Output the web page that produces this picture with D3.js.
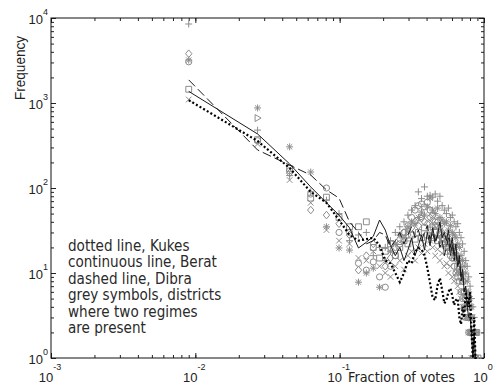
<!DOCTYPE html>
<html>
<head>
<meta charset="utf-8">
<script src="https://cdn.jsdelivr.net/npm/d3@7"></script>
<style>
  body { margin: 0; background: #fff; }
  svg { display: block; }
</style>
</head>
<body>
<svg id="chart" width="500" height="386"></svg>
<script>
// bin centres (fraction of votes)
const voteFraction = [
    0.009, 0.027, 0.045, 0.063, 0.081, 0.099, 0.117, 0.135, 0.153, 0.171,
    0.189, 0.207, 0.225, 0.243, 0.261, 0.279, 0.297, 0.315, 0.333, 0.351,
    0.369, 0.387, 0.405, 0.423, 0.441, 0.459, 0.477, 0.495, 0.513, 0.531,
    0.549, 0.567, 0.585, 0.603, 0.621, 0.639, 0.657, 0.675, 0.693, 0.711,
    0.729, 0.747, 0.765, 0.783, 0.801, 0.819, 0.837, 0.855, 0.873, 0.891,
    0.909, 0.927, 0.945, 0.963, 0.981
];

// dotted line
const kukes = [
    1080, 357, 172, 90, 67, 42, 28, 24, 25, 26,
    21, 14, 13, 10, 7.8, 10, 14, 13, 17.7, 19.7,
    19, 16.3, 11.5, 7.6, 5.1, 4.8, 7.2, 8.7, 6.3, 4.4,
    4.8, 6.0, 6.6, 5.4, 4.2, 4.8, 5, 3, 2.5, 4,
    3, 6, 5, 4, 6, 2, 1, 3, 1, 1,
    null, null, null, null, null
];

// continuous line
const berat = [
    1370, 432, 192, 103, 67, 48, 34, 19.7, 23, 27,
    42, 32, 21, 16, 20, 14, 18.6, 25.8, 16, 21,
    28, 18.6, 30, 21, 34, 24, 28, 40, 26, 30,
    24, 32, 20, 26, 16, 22, 12, 16, 9, 11,
    6, 7, 4, 3, 3, 2, 1, 2, 1, null,
    null, null, null, null, null
];

// dashed line
const dibra = [
    1870, 280, 186, 142, 95, 76, 40, 30, 22, 24,
    30, 28, 20, 24, 30, 22, 28, 35, 26, 32,
    24, 30, 36, 25, 30, 22, 28, 20, 24, 16,
    20, 26, 16, 22, 14, 18, 12, 14, 8, 10,
    6, 7, 4, 5, 3, 2, 2, 1, 1, null,
    null, null, null, null, null
];

// grey symbols, districts with two regimes
const greyPlus = [
    8500, 480, 140, 90, 72, 50, 24, 28, 30, 16,
    20, 20, 24, 30, 35, 40, 48, 55, 62, 90,
    75, 103, 80, 82, 78, 85, 70, 80, 62, 55,
    50, 58, 45, 48, 40, 35, 38, 30, 26, 22,
    18, 14, 12, 9, 7, 5, 4, 3, 2, 2,
    1, null, null, null, null
];
const greyStar = [
    3200, 875, 305, 154, 35, 19.7, 18.6, 7.8, 10, 11.4,
    6.8, 14, 18, 22, 28, 26, 35, 40, 38, 45,
    52, 48, 60, 76, 55, 50, 58, 45, 42, 38,
    40, 32, 36, 30, 28, 26, 22, 20, 16, 14,
    12, 10, 8, 6, 5, 4, 3, 2, 1, null,
    null, null, null, null, null
];
const greyCircle = [
    3050, 360, 160, 85, 100, 30, 30, 13, 10.8, 13.5,
    9, 6.8, 12, 16, 22, 30, 36, 45, 55, 62,
    65, 60, 68, 55, 48, 40, 36, 30, 26, 22,
    18, 20, 16, 15, 12, 10, 9, 8, 6, 5,
    4, 3, 3, 2, 2, 2, 2, null, null, null,
    null, null, null, null, null
];
const greyCross = [
    1100, 330, 124, 67, 32, 24, 22, 15, 14, 18,
    12, 10, 9, 12, 14, 11, 16, 18, 14, 20,
    17, 22, 18, 24, 20, 16, 19, 14, 17, 12,
    13, 10, 12, 9, 8, 10, 7, 6, 5, 4,
    4, 3, 3, 2, 2, 1, 1, null, null, null,
    null, null, null, null, null
];
const greySquare = [
    1450, 370, 170, 76, 78, 45, 35, 35, 40, 20,
    15, 18, 22, 16, 20, 24, 22, 28, 25, 30,
    26, 34, 28, 32, 26, 30, 24, 28, 22, 25,
    20, 22, 18, 20, 15, 16, 12, 11, 9, 8,
    6, 5, 4, 3, 3, 2, 2, 2, 2, 2,
    1, null, null, null, null
];
const greyDiamond = [
    3800, null, 150, 55, 48, 38, 28, 10.8, 16, 22,
    null, 12, 15, 20, 25, 30, 28, 34, 40, 36,
    44, 40, 38, 45, 42, 36, 40, 34, 30, 28,
    24, 26, 22, 20, 18, 16, 14, 12, 10, 8,
    6, 5, 4, 3, 2, 2, 1, null, null, null,
    null, null, null, null, null
];
const greyTriangle = [
    null, 665, null, null, null, null, null, null, null, null,
    null, null, null, null, null, null, 30, null, null, null,
    45, null, null, null, 35, null, null, null, 25, null,
    null, null, null, null, null, null, null, null, null, null,
    null, null, null, null, null, null, null, null, null, null,
    null, null, null, null, null
];

const xTickValues = [0.001, 0.01, 0.1, 1];
const xTickExponents = ["-3", "-2", "-1", "0"];
const yTickValues = [1, 10, 100, 1000, 10000];
const yTickExponents = ["0", "1", "2", "3", "4"];

const noteLines = [
    "dotted line, Kukes",
    "continuous line, Berat",
    "dashed line, Dibra",
    "grey symbols, districts",
    "where two regimes",
    "are present"
];

const svg = d3.select("#chart");
const plotLeft = 51, plotRight = 484, plotTop = 18, plotBottom = 358;

const x = d3.scaleLog().domain([1e-3, 1]).range([plotLeft, plotRight]);
const y = d3.scaleLog().domain([1, 1e4]).range([plotBottom, plotTop]);

svg.append("defs").append("clipPath").attr("id", "plotClip")
    .append("rect")
    .attr("x", plotLeft).attr("y", plotTop - 2)
    .attr("width", plotRight - plotLeft).attr("height", plotBottom - plotTop + 3);

// ticks (inward, on all four sides)
const minorX = x.ticks();
const minorY = y.ticks();
function tickLayer(axis, tf) {
    const g = svg.append("g").attr("transform", tf).call(axis);
    g.select(".domain").remove();
    g.selectAll("text").remove();
    g.selectAll("line").attr("stroke", "#222");
}
tickLayer(d3.axisBottom(x).tickValues(minorX).tickSize(-3).tickSizeOuter(0), `translate(0,${plotBottom})`);
tickLayer(d3.axisBottom(x).tickValues(xTickValues).tickSize(-5).tickSizeOuter(0), `translate(0,${plotBottom})`);
tickLayer(d3.axisTop(x).tickValues(minorX).tickSize(-3).tickSizeOuter(0), `translate(0,${plotTop})`);
tickLayer(d3.axisTop(x).tickValues(xTickValues).tickSize(-5).tickSizeOuter(0), `translate(0,${plotTop})`);
tickLayer(d3.axisLeft(y).tickValues(minorY).tickSize(-3).tickSizeOuter(0), `translate(${plotLeft},0)`);
tickLayer(d3.axisLeft(y).tickValues(yTickValues).tickSize(-5).tickSizeOuter(0), `translate(${plotLeft},0)`);
tickLayer(d3.axisRight(y).tickValues(minorY).tickSize(-3).tickSizeOuter(0), `translate(${plotRight},0)`);
tickLayer(d3.axisRight(y).tickValues(yTickValues).tickSize(-5).tickSizeOuter(0), `translate(${plotRight},0)`);

svg.append("rect")
    .attr("x", plotLeft).attr("y", plotTop)
    .attr("width", plotRight - plotLeft).attr("height", plotBottom - plotTop)
    .attr("fill", "none").attr("stroke", "#111").attr("stroke-width", 1);

// tick labels 10^n
const labelFont = "'Liberation Sans', Arial, sans-serif";
xTickValues.forEach((v, i) => {
    const t = svg.append("text")
        .attr("x", x(v) - 1).attr("y", plotBottom + 24)
        .attr("text-anchor", "middle")
        .attr("font-family", labelFont).attr("font-size", 13)
        .attr("fill", "#222");
    t.append("tspan").text("10");
    t.append("tspan").attr("font-size", 9).attr("dy", -12).text(xTickExponents[i]);
});
yTickValues.forEach((v, i) => {
    const t = svg.append("text")
        .attr("x", plotLeft - 3).attr("y", y(v) + 6)
        .attr("text-anchor", "end")
        .attr("font-family", labelFont).attr("font-size", 13)
        .attr("fill", "#222");
    t.append("tspan").text("10");
    t.append("tspan").attr("font-size", 9).attr("dy", -9).text(yTickExponents[i]);
});

// axis titles
svg.append("text")
    .attr("transform", "translate(25,68) rotate(-90)")
    .attr("text-anchor", "middle")
    .attr("font-family", labelFont).attr("font-size", 15)
    .attr("fill", "#222")
    .attr("textLength", 64).attr("lengthAdjust", "spacingAndGlyphs")
    .text("Frequency");

svg.append("text")
    .attr("x", 348).attr("y", 382)
    .attr("font-family", "'DejaVu Sans', sans-serif").attr("font-size", 14)
    .attr("fill", "#222")
    .attr("textLength", 107).attr("lengthAdjust", "spacingAndGlyphs")
    .text("Fraction of votes");

// grey symbols
const markerPaths = {
    plus: "M-3.5,0H3.5M0,-3.5V3.5",
    cross: "M-2.8,-2.8L2.8,2.8M-2.8,2.8L2.8,-2.8",
    star: "M-3.5,0H3.5M0,-3.5V3.5M-2.6,-2.6L2.6,2.6M-2.6,2.6L2.6,-2.6",
    circle: d3.symbol(d3.symbolCircle, 30)(),
    square: d3.symbol(d3.symbolSquare, 34)(),
    diamond: "M0,-3.8L3.2,0L0,3.8L-3.2,0Z",
    triangle: "M-2.5,-3.5L3.5,0L-2.5,3.5Z"
};
const districts = [
    { marker: "square", values: greySquare },
    { marker: "cross", values: greyCross },
    { marker: "diamond", values: greyDiamond },
    { marker: "circle", values: greyCircle },
    { marker: "star", values: greyStar },
    { marker: "triangle", values: greyTriangle },
    { marker: "plus", values: greyPlus }
];

const plot = svg.append("g").attr("clip-path", "url(#plotClip)");

districts.forEach((dist) => {
    const pts = voteFraction
        .map((f, i) => [f, dist.values[i]])
        .filter((d) => d[1] != null);
    plot.append("g")
        .selectAll("path")
        .data(pts)
        .enter()
        .append("path")
        .attr("d", markerPaths[dist.marker])
        .attr("transform", (d) => `translate(${x(d[0])},${y(d[1])})`)
        .attr("fill", "none")
        .attr("stroke", "#8c8c8c")
        .attr("stroke-width", 1);
});

// black lines
const line = d3.line()
    .defined((d) => d[1] != null)
    .x((d) => x(d[0]))
    .y((d) => y(d[1]));

const regions = [
    { values: dibra, width: 1, dash: "9,4", color: "#1a1a1a" },
    { values: berat, width: 1, dash: null, color: "#1a1a1a" },
    { values: kukes, width: 2.2, dash: "2,2.2", color: "#000" }
];
regions.forEach((r) => {
    plot.append("path")
        .datum(voteFraction.map((f, i) => [f, r.values[i]]))
        .attr("d", line)
        .attr("fill", "none")
        .attr("stroke", r.color)
        .attr("stroke-width", r.width)
        .attr("stroke-dasharray", r.dash);
});

// annotation block
const note = svg.append("g");
const noteText = note.selectAll("text")
    .data(noteLines)
    .enter()
    .append("text")
    .attr("x", 0)
    .attr("y", (d, i) => 251 + i * 16.5)
    .attr("font-family", "'DejaVu Sans', sans-serif")
    .attr("font-size", 15)
    .attr("fill", "#2a2a2a")
    .text((d) => d);
const natural = noteText.nodes()[1].getComputedTextLength();
const squeeze = 149 / natural;
noteText.attr("transform", `translate(68,0) scale(${squeeze},1)`);
</script>
</body>
</html>
